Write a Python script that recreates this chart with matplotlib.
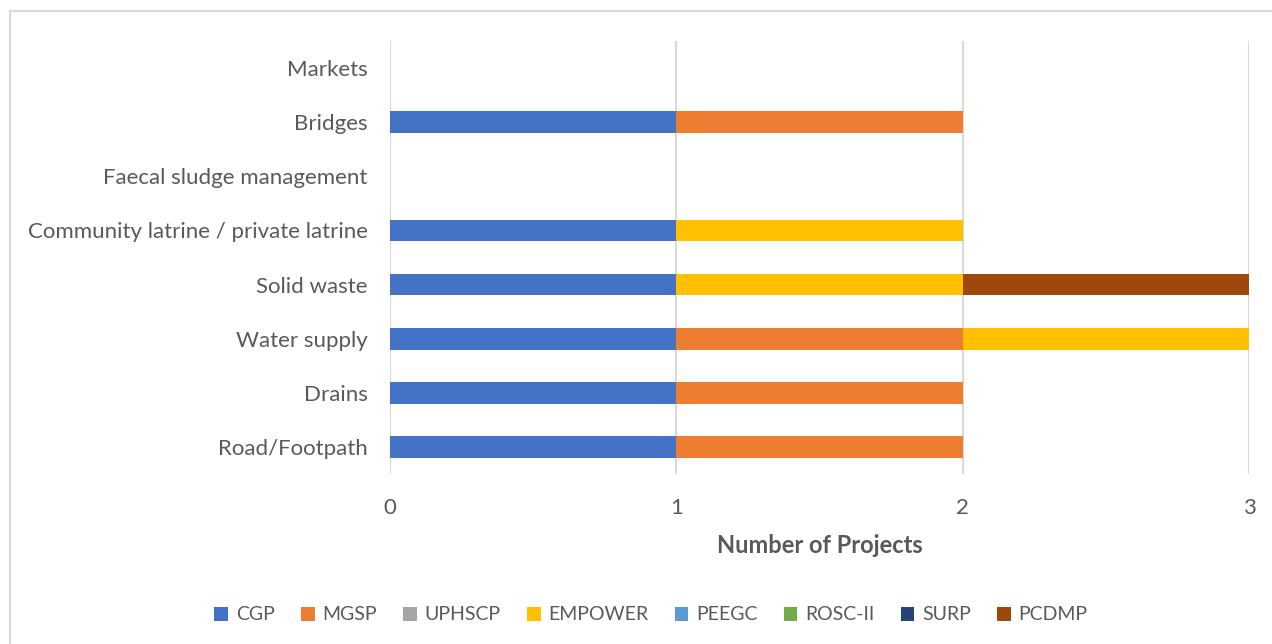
import matplotlib
matplotlib.use("Agg")
import matplotlib.pyplot as plt
from matplotlib.patches import Rectangle
import numpy as np

plt.rcParams['font.family'] = ['Lato', 'DejaVu Sans']

categories = ["Road/Footpath", "Drains", "Water supply", "Solid waste",
              "Community latrine / private latrine", "Faecal sludge management",
              "Bridges", "Markets"]
series_names = ["CGP", "MGSP", "UPHSCP", "EMPOWER", "PEEGC", "ROSC-II", "SURP", "PCDMP"]
CGP = [1, 1, 1, 1, 1, 0, 1, 0]
MGSP = [1, 1, 1, 0, 0, 0, 1, 0]
UPHSCP = [0, 0, 0, 0, 0, 0, 0, 0]
EMPOWER = [0, 0, 1, 1, 1, 0, 0, 0]
PEEGC = [0, 0, 0, 0, 0, 0, 0, 0]
ROSC_II = [0, 0, 0, 0, 0, 0, 0, 0]
SURP = [0, 0, 0, 0, 0, 0, 0, 0]
PCDMP = [0, 0, 0, 1, 0, 0, 0, 0]
series_values = [CGP, MGSP, UPHSCP, EMPOWER, PEEGC, ROSC_II, SURP, PCDMP]
colors = ["#4472C4", "#ED7D31", "#A5A5A5", "#FFC000", "#5B9BD5", "#70AD47", "#264478", "#9E480E"]
xticks = [0, 1, 2, 3]

fig = plt.figure(figsize=(12.72, 6.44), dpi=100)
W, H = 1272, 644
fig.patches.append(Rectangle((10 / W, -0.1), 1.2, 1 - 11 / H + 0.1, transform=fig.transFigure,
                             fill=False, edgecolor="#D9D9D9", linewidth=1.5))
ax_l, ax_r, ax_t, ax_b = 390, 1249, 41, 474
ax = fig.add_axes([ax_l / W, 1 - ax_b / H, (ax_r - ax_l) / W, (ax_b - ax_t) / H])

y = np.arange(len(categories))
left = np.zeros(len(categories))
for name, vals, c in zip(series_names, series_values, colors):
    vals = np.array(vals, dtype=float)
    ax.barh(y, vals, left=left, height=0.4, color=c, label=name, zorder=3)
    left += vals

ax.set_xlim(0, 3)
ax.set_ylim(-0.5, len(categories) - 0.5)
ax.set_xticks(xticks)
ax.set_xticklabels([str(t) for t in xticks])
ax.set_yticks(y)
ax.set_yticklabels(categories)
ax.grid(axis='x', color="#D9D9D9", linewidth=1.5, zorder=0)
for s in ax.spines.values():
    s.set_visible(False)
ax.tick_params(axis='both', length=0, labelsize=16, labelcolor="#595959")
ax.tick_params(axis='y', pad=16)
ax.tick_params(axis='x', pad=17)
ax.set_xlabel("Number of Projects", fontsize=17, fontweight='bold', color="#595959", labelpad=12)

# legend centred at pixel (651, 615)
lx = (651 - ax_l) / (ax_r - ax_l)
ly = (ax_b - 615) / (ax_b - ax_t)
ax.legend(loc='center', bbox_to_anchor=(lx, ly),
          ncol=8, frameon=False, fontsize=14, handlelength=0.7, handleheight=0.7,
          handletextpad=0.4, columnspacing=1.35, labelcolor="#595959")

fig.savefig("out.png", dpi=100)
